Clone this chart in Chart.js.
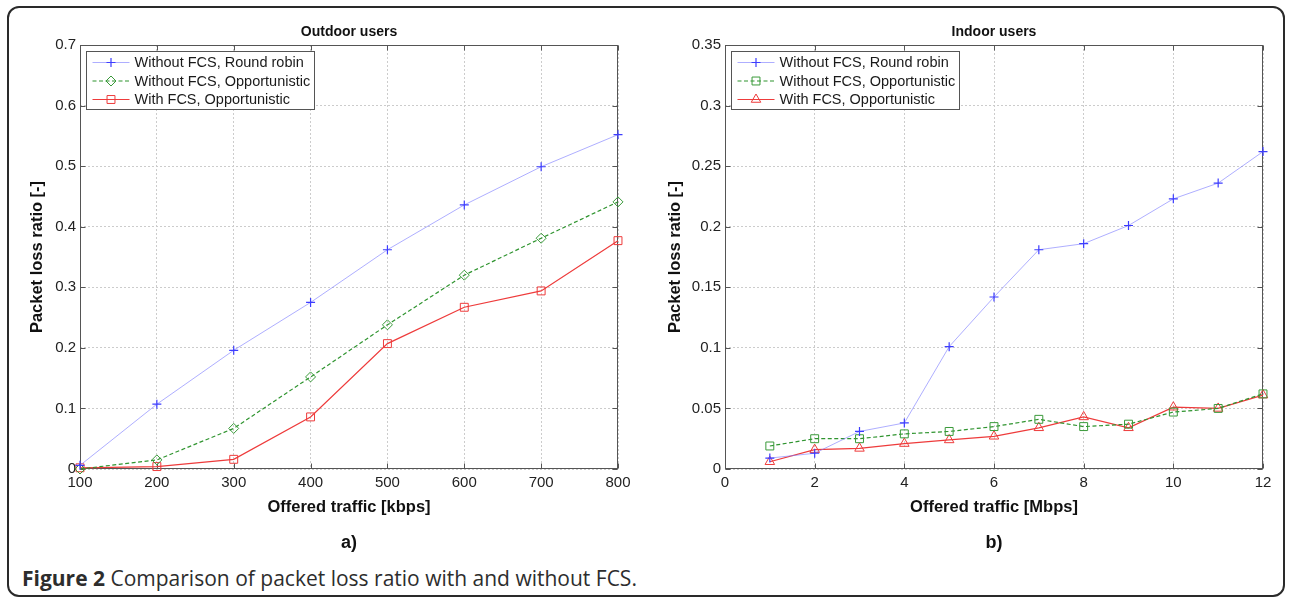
<!DOCTYPE html>
<html><head><meta charset="utf-8">
<script src="https://cdn.jsdelivr.net/npm/chart.js@4.4.0/dist/chart.umd.min.js"></script>
<style>
html,body{margin:0;padding:0;background:#fff;width:1291px;height:600px;overflow:hidden;}
#frame{position:absolute;left:7px;top:6px;width:1278px;height:591px;border:2px solid #2a2a2a;border-radius:12px;box-sizing:border-box;}
canvas{position:absolute;top:0;}
#c1{left:0}
#c2{left:640px}
#cap{position:absolute;left:22px;top:564px;font-family:"Open Sans",sans-serif;font-size:21px;line-height:28px;color:#2d2d2d;white-space:nowrap;}
</style></head>
<body>
<div id="frame"></div>
<canvas id="c1" width="650" height="560"></canvas>
<canvas id="c2" width="651" height="560"></canvas>
<div id="cap"><b>Figure 2</b> Comparison of packet loss ratio with and without FCS.</div>
<script>
const FONT = '"Liberation Sans", Arial, sans-serif';

// ---- data ----
const seriesLabels = ['Without FCS, Round robin', 'Without FCS, Opportunistic', 'With FCS, Opportunistic'];

const outdoorTraffic = [100, 200, 300, 400, 500, 600, 700, 800];
const outdoorRoundRobin = [0.006, 0.107, 0.196, 0.275, 0.362, 0.436, 0.499, 0.552];
const outdoorOpportunistic = [0.0, 0.015, 0.067, 0.152, 0.238, 0.320, 0.381, 0.441];
const outdoorFCS = [0.002, 0.004, 0.016, 0.086, 0.207, 0.267, 0.294, 0.377];

const indoorTraffic = [1, 2, 3, 4, 5, 6, 7, 8, 9, 10, 11, 12];
const indoorRoundRobin = [0.009, 0.013, 0.031, 0.038, 0.101, 0.142, 0.181, 0.186, 0.201, 0.223, 0.236, 0.262];
const indoorOpportunistic = [0.019, 0.025, 0.025, 0.029, 0.031, 0.035, 0.041, 0.035, 0.037, 0.047, 0.050, 0.062];
const indoorFCS = [0.006, 0.016, 0.017, 0.021, 0.024, 0.027, 0.034, 0.043, 0.034, 0.051, 0.050, 0.061];

const outdoorXRange = [100, 800, 100];
const outdoorYRange = [0, 0.7, 0.1];
const indoorXRange = [0, 12, 2];
const indoorYRange = [0, 0.35, 0.05];

// ---- styles ----
const styleRR = {borderColor:'rgba(120,120,255,0.6)', borderWidth:1, borderDash:[], pointStyle:'cross', pointRadius:4.5, pointBorderColor:'#3d3dff', pointBorderWidth:1.2};
const styleOpp = (ps, r) => ({borderColor:'#2f942f', borderWidth:1.2, borderDash:[4,2.5], pointStyle:ps, pointRadius:r, pointBorderColor:'#3a9a3a', pointBorderWidth:1});
const styleFCS = (ps, r) => ({borderColor:'#ee3b3b', borderWidth:1.2, borderDash:[], pointStyle:ps, pointRadius:r, pointBorderColor:'#ee3b3b', pointBorderWidth:1});

function ds(label, xs, ys, st) {
  return Object.assign({
    label, data: xs.map((x, i) => ({x, y: ys[i]})),
    tension:0, clip:false, pointBackgroundColor:'rgba(0,0,0,0)', pointHoverRadius:0, fill:false
  }, st);
}

const framePlugin = {
  id:'frameTicks',
  beforeDatasetsDraw(chart) {
    const {ctx, chartArea:a, scales:{x, y}} = chart;
    ctx.save();
    ctx.strokeStyle = '#555'; ctx.lineWidth = 1;
    const L = Math.round(a.left) + 0.5, R = Math.round(a.right) - 0.5, T = Math.round(a.top) + 0.5, B = Math.round(a.bottom) - 0.5;
    ctx.strokeRect(L, T, R - L, B - T);
    ctx.beginPath();
    x.ticks.forEach(t => { const p = Math.round(x.getPixelForValue(t.value)) + 0.5; ctx.moveTo(p, B); ctx.lineTo(p, B - 5); ctx.moveTo(p, T); ctx.lineTo(p, T + 5); });
    y.ticks.forEach(t => { const p = Math.round(y.getPixelForValue(t.value)) + 0.5; ctx.moveTo(L, p); ctx.lineTo(L + 5, p); ctx.moveTo(R, p); ctx.lineTo(R - 5, p); });
    ctx.stroke();
    ctx.restore();
  }
};

const legendPlugin = {
  id:'boxLegend',
  afterDatasetsDraw(chart) {
    const {ctx, chartArea:a} = chart;
    const bx = Math.round(a.left) + 6.5, by = Math.round(a.top) + 6.5, bw = 228, bh = 58;
    ctx.save();
    ctx.fillStyle = '#fff'; ctx.fillRect(bx, by, bw, bh);
    ctx.strokeStyle = '#555'; ctx.lineWidth = 1; ctx.strokeRect(bx, by, bw, bh);
    ctx.font = '14.5px ' + FONT; ctx.textBaseline = 'middle';
    chart.data.datasets.forEach((d, i) => {
      const yy = by + 11 + i * 18.5;
      ctx.save();
      ctx.strokeStyle = d.borderColor; ctx.lineWidth = d.borderWidth; ctx.setLineDash(d.borderDash || []);
      ctx.beginPath(); ctx.moveTo(bx + 6, yy); ctx.lineTo(bx + 43, yy); ctx.stroke();
      ctx.setLineDash([]);
      ctx.strokeStyle = d.pointBorderColor; ctx.lineWidth = d.pointBorderWidth; ctx.fillStyle = 'rgba(0,0,0,0)';
      Chart.helpers.drawPoint(ctx, {pointStyle:d.pointStyle, radius:d.pointRadius, borderWidth:d.pointBorderWidth, rotation:0}, bx + 24.5, yy);
      ctx.restore();
      ctx.fillStyle = '#1a1a1a';
      ctx.fillText(d.label, bx + 48, yy + 0.5);
    });
    ctx.restore();
  }
};

const fmt = v => String(+(+v).toFixed(2));

function makeChart(id, o) {
  const tickFont = {family:FONT, size:15};
  const titleFont = {family:FONT, size:16.5, weight:'bold'};
  return new Chart(document.getElementById(id), {
    type:'line',
    data:{datasets:[
      ds(seriesLabels[0], o.xs, o.s1, styleRR),
      ds(seriesLabels[1], o.xs, o.s2, styleOpp(o.m2, o.r2)),
      ds(seriesLabels[2], o.xs, o.s3, styleFCS(o.m3, o.r3))
    ]},
    options:{
      responsive:false, animation:false, events:[],
      layout:{padding:{left:0, top:0, right:o.padRight, bottom:0}},
      plugins:{
        legend:{display:false}, tooltip:{enabled:false},
        title:{display:true, text:o.title, fullSize:false, color:'#111', font:{family:FONT, size:14, weight:'bold'}, padding:{top:23.6, bottom:4.6}},
        subtitle:{display:true, position:'bottom', text:o.sub, fullSize:false, color:'#111', font:{family:FONT, size:18, weight:'bold'}, padding:{top:0, bottom:6.2}}
      },
      scales:{
        x:{type:'linear', min:o.xr[0], max:o.xr[1],
          afterFit:s => { s.height = 63.2; },
          ticks:{stepSize:o.xr[2], padding:5, color:'#222', font:tickFont, autoSkip:false, maxRotation:0, callback:fmt},
          grid:{color:'#cccccc', drawTicks:false}, border:{display:false, dash:[2,2]},
          title:{display:true, text:o.xTitle, color:'#111', font:titleFont, padding:{top:0, bottom:15.3}}},
        y:{type:'linear', min:o.yr[0], max:o.yr[1],
          afterFit:s => { s.width = o.yw; },
          ticks:{stepSize:o.yr[2], padding:4, color:'#222', font:tickFont, autoSkip:false, callback:fmt},
          grid:{color:'#cccccc', drawTicks:false}, border:{display:false, dash:[2,2]},
          title:{display:true, text:'Packet loss ratio [-]', color:'#111', font:titleFont, padding:{top:o.ytPad, bottom:0}}}
      }
    },
    plugins:[framePlugin, legendPlugin]
  });
}

makeChart('c1', {xs:outdoorTraffic, s1:outdoorRoundRobin, s2:outdoorOpportunistic, s3:outdoorFCS,
  m2:'rectRot', r2:5, m3:'rect', r3:5.6, xr:outdoorXRange, yr:outdoorYRange,
  title:'Outdoor users', sub:'a)', xTitle:'Offered traffic [kbps]', yw:80, padRight:32, ytPad:27.6});
makeChart('c2', {xs:indoorTraffic, s1:indoorRoundRobin, s2:indoorOpportunistic, s3:indoorFCS,
  m2:'rect', r2:5.6, m3:'triangle', r3:5.5, xr:indoorXRange, yr:indoorYRange,
  title:'Indoor users', sub:'b)', xTitle:'Offered traffic [Mbps]', yw:85, padRight:28, ytPad:25.1});
</script>
</body></html>
